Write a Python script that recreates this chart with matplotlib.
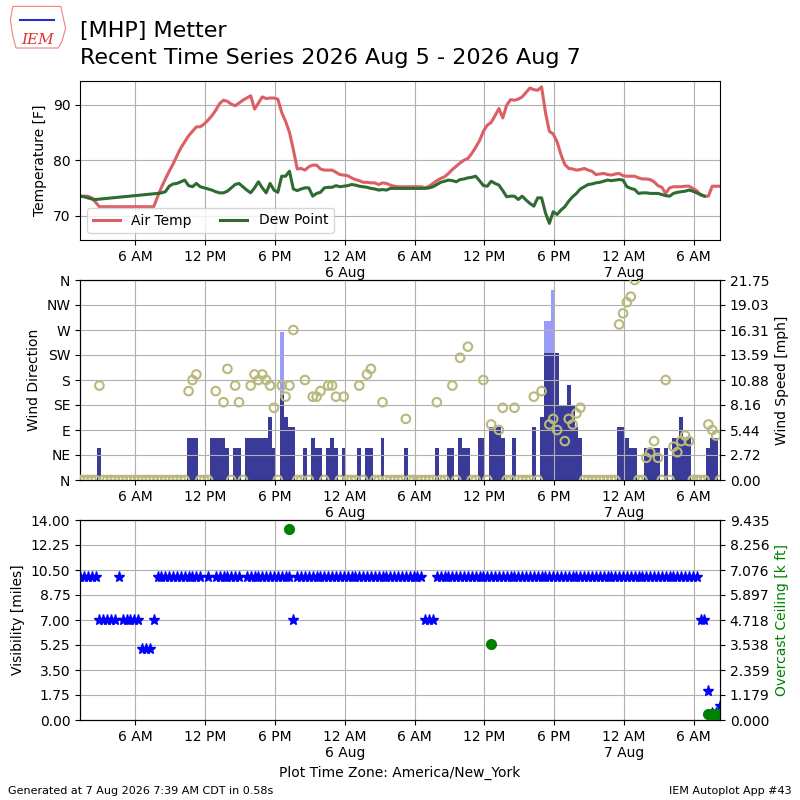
import matplotlib
matplotlib.use('Agg')
import matplotlib.pyplot as plt
import matplotlib.dates as mdates
from matplotlib.ticker import FuncFormatter, FixedLocator
from matplotlib.patches import Polygon
import numpy as np
import pandas as pd

nan = np.nan

# observations every 20 minutes, local time (America/New_York)
obs_start = '2026-08-05 01:15'
n_obs = 166

temp_f = [73.5, 73.5, 73.5, 73.2, nan, 71.6, nan, nan, nan, nan,
          nan, nan, nan, nan, nan, nan, nan, nan, nan, 71.6,
          73.4, 75.1, 76.6, 78.0, 79.3, 80.8, 82.2, 83.3, 84.4, 85.2,
          86.0, 86.0, 86.5, 87.2, 88.0, 89.0, 90.2, 90.8, 90.6, 90.1,
          89.8, 90.3, 90.8, 91.2, 91.6, 89.2, 90.3, 91.4, 91.1, 91.2,
          91.2, 91.0, 88.6, 87.0, 85.0, 81.9, 78.4, 78.5, 78.2, 78.8,
          79.1, 79.1, 78.4, 78.2, 78.2, 78.2, 77.8, 77.4, 77.3, 77.2,
          76.8, 76.5, 76.3, 76.0, 76.0, 75.9, 75.9, 75.6, 75.9, 75.8,
          75.5, 75.3, 75.2, 75.2, 75.2, 75.2, 75.2, 75.2, 75.2, 75.0,
          75.3, 75.8, 76.3, 76.7, 77.0, 77.6, 78.3, 78.9, 79.5, 80.0,
          80.3, 81.2, 82.3, 83.5, 85.2, 86.3, 86.8, 88.0, 89.3, 87.6,
          89.9, 90.9, 90.8, 91.0, 91.4, 92.2, 93.0, 92.7, 92.6, 93.2,
          88.6, 85.2, 84.7, 83.3, 81.0, 79.2, 78.5, 78.4, 78.2, 78.3,
          78.5, 78.2, 78.0, 77.4, 77.5, 77.6, 77.4, 77.3, 77.5, 77.6,
          77.2, 77.1, 77.1, 77.1, 76.8, 76.6, 76.6, 76.5, 76.1, 75.4,
          75.1, 74.0, 75.0, 75.2, 75.2, 75.2, 75.3, 75.3, 74.9, 74.5,
          73.7, 73.5, 73.5, 75.3, 75.3, 75.3]

dwpt_f = [73.5, 73.4, 73.2, 73.0, 72.9, nan, nan, nan, nan, nan,
          nan, nan, nan, nan, nan, nan, nan, nan, nan, nan,
          74.0, 74.1, 74.3, 75.3, 75.7, 75.8, 76.1, 76.4, 75.4, 75.2,
          75.8, 75.2, 75.0, 74.8, 74.6, 74.3, 74.1, 74.1, 74.4, 75.0,
          75.6, 75.8, 75.2, 74.6, 74.1, 75.0, 76.1, 75.0, 74.1, 75.8,
          74.6, 74.2, 77.1, 77.1, 78.0, 74.8, 74.5, 74.8, 75.0, 75.0,
          73.5, 74.0, 74.2, 75.0, 75.1, 75.1, 75.4, 75.2, 75.3, 75.4,
          75.6, 75.5, 75.3, 75.2, 75.1, 74.9, 74.8, 74.6, 74.7, 74.6,
          74.9, 74.9, 74.9, 74.9, 74.9, 74.9, 74.9, 74.9, 74.9, 74.9,
          75.0, 75.2, 75.6, 76.0, 76.2, 76.4, 76.3, 76.1, 76.5, 76.6,
          76.8, 76.9, 77.1, 76.3, 75.4, 75.3, 76.2, 75.8, 75.5, 74.5,
          73.4, 73.5, 73.5, 72.9, 73.5, 72.8, 72.2, 71.7, 73.2, 73.2,
          70.5, 68.6, 70.7, 70.2, 71.0, 71.6, 72.6, 73.4, 74.0, 74.8,
          75.2, 75.6, 75.7, 75.9, 76.0, 76.2, 76.4, 76.3, 76.4, 76.5,
          76.4, 75.2, 74.9, 74.7, 74.0, 74.1, 74.1, 74.0, 74.0, 74.0,
          73.8, 73.6, 73.5, 74.0, 74.2, 74.3, 74.4, 74.6, 74.4, 74.1,
          73.8, 73.5, nan, nan, nan, nan]

# wind speed [knots]
sknt = [0, 0, 0, 0, 0, 3, 0, 0, 0, 0,
        0, 0, 0, 0, 0, 0, 0, 0, 0, 0,
        0, 0, 0, 0, 0, 0, 0, 0, 4, 4,
        4, 0, 0, 0, 4, 4, 4, 4, 3, 0,
        3, 3, 0, 4, 4, 4, 4, 4, 4, 6,
        3, 0, 8, 6, 5, 5, 0, 0, 3, 0,
        4, 3, 3, 0, 3, 4, 3, 0, 3, 0,
        0, 0, 3, 0, 3, 3, 0, 0, 4, 0,
        0, 0, 0, 0, 3, 0, 0, 0, 0, 0,
        0, 0, 3, 0, 0, 3, 3, 0, 4, 3,
        3, 0, 0, 4, 4, 0, 5, 5, 5, 4,
        0, 0, 4, 0, 0, 0, 0, 5, 0, 6,
        12, 12, 12, 12, 7, 7, 9, 7, 5, 4,
        0, 0, 0, 0, 0, 0, 0, 0, 0, 5,
        5, 4, 3, 3, 0, 0, 3, 3, 3, 3,
        0, 3, 0, 4, 4, 6, 4, 4, 0, 0,
        0, 0, 3, 4, 4, 0]

# wind direction [deg], calm = 0
drct = [0, 0, 0, 0, 0, 170, 0, 0, 0, 0,
        0, 0, 0, 0, 0, 0, 0, 0, 0, 0,
        0, 0, 0, 0, 0, 0, 0, 0, 160, 180,
        190, 0, 0, 0, nan, 160, nan, 140, 200, 0,
        170, 140, 0, nan, 170, 190, 180, 190, 180, 170,
        130, 0, 170, 150, 170, 270, 0, 0, 180, 0,
        150, 150, 160, 0, 170, 170, 150, 0, 150, 0,
        0, 0, 170, 0, 190, 200, 0, 0, 140, 0,
        0, 0, 0, 0, 110, 0, 0, 0, 0, 0,
        0, 0, 140, 0, 0, nan, 170, 0, 220, nan,
        240, 0, 0, nan, 180, 0, 100, nan, 90, 130,
        0, 0, 130, 0, 0, 0, 0, 150, 0, 160,
        nan, 100, 110, 90, nan, 70, 110, 100, 120, 130,
        0, 0, 0, 0, 0, 0, 0, 0, 0, 280,
        300, 320, 330, 360, 0, 0, 40, 50, 70, 40,
        0, 180, 0, 60, 50, 70, 80, 70, 0, 0,
        0, 0, 100, 90, 80, 0]

# visibility [miles]
vsby = [10, 10, 10, 10, 10, 7, 7, 7, 7, 7,
        10, 7, 7, 7, 7, 7, 5, 5, 5, 7,
        10, 10, 10, 10, 10, 10, 10, 10, 10, 10,
        10, 10, nan, 10, nan, 10, 10, 10, 10, 10,
        10, 10, nan, 10, 10, 10, 10, 10, 10, 10,
        10, 10, 10, 10, 10, 7, 10, 10, 10, 10,
        10, 10, 10, 10, 10, 10, 10, 10, 10, 10,
        10, 10, 10, 10, 10, 10, 10, 10, 10, 10,
        10, 10, 10, 10, 10, 10, 10, 10, 10, 7,
        7, 7, 10, 10, 10, 10, 10, 10, 10, 10,
        10, 10, 10, 10, 10, 10, 10, 10, 10, 10,
        10, 10, 10, 10, 10, 10, 10, 10, 10, 10,
        10, 10, 10, 10, 10, 10, 10, 10, 10, 10,
        10, 10, 10, 10, 10, 10, 10, 10, 10, 10,
        10, 10, 10, 10, 10, 10, 10, 10, 10, 10,
        10, 10, 10, 10, 10, 10, 10, 10, 10, 10,
        7, 7, 2, 0.5, 0.5, 1.0]

gust_valid = ['2026-08-05 18:35', '2026-08-06 17:15', '2026-08-06 17:35', '2026-08-06 17:55']
gust_kt = [14, 15, 15, 18]

ceil_valid = ['2026-08-05 19:15', '2026-08-06 12:35', '2026-08-07 07:15',
              '2026-08-07 07:35', '2026-08-07 07:55', '2026-08-07 08:15']
ceil_kft = [9.0, 3.6, 0.3, 0.3, 0.3, 0.3]

KT2MPH = 1.15078

valid = pd.date_range(obs_start, periods=n_obs, freq='20min')
df = pd.DataFrame({'tmpf': temp_f, 'dwpf': dwpt_f, 'sknt': sknt,
                   'drct': drct, 'vsby': vsby}, index=valid)
gusts = pd.Series(gust_kt, index=pd.to_datetime(gust_valid)) * KT2MPH
ceil = pd.Series(ceil_kft, index=pd.to_datetime(ceil_valid))


def time_fmt(x, pos=None):
    dt = mdates.num2date(x)
    if dt.hour == 0:
        return '12 AM\n%d Aug' % dt.day
    h = dt.hour % 12 or 12
    return '%d %s' % (h, 'AM' if dt.hour < 12 else 'PM')


def setup_time(ax):
    ax.xaxis.set_major_locator(mdates.HourLocator(byhour=[0, 6, 12, 18]))
    ax.xaxis.set_major_formatter(FuncFormatter(time_fmt))
    ax.set_xlim(valid[0], valid[-1])
    ax.tick_params(labelsize=10)


fig = plt.figure(figsize=(8, 8), dpi=100)

# title and logo
fig.text(0.1, 0.954, '[MHP] Metter', fontsize=16)
fig.text(0.1, 0.920, 'Recent Time Series 2026 Aug 5 - 2026 Aug 7', fontsize=16)
iowa = Polygon([[0.016, 0.992], [0.076, 0.992], [0.079, 0.978], [0.082, 0.965],
                [0.078, 0.950], [0.073, 0.940], [0.020, 0.940], [0.016, 0.955],
                [0.013, 0.975]], closed=True, transform=fig.transFigure,
               fill=False, edgecolor='#f08080', lw=0.8)
fig.patches.append(iowa)
fig.lines.append(plt.Line2D([0.025, 0.068], [0.975, 0.975], transform=fig.transFigure,
                            color='#2233cc', lw=1.5))
fig.text(0.047, 0.950, 'IEM', fontsize=11, color='#e03030', family='serif',
         style='italic', ha='center', va='center')

# --- temperature panel
ax1 = fig.add_axes([0.1, 0.70, 0.8, 0.199])
t = df['tmpf'].dropna()
d = df['dwpf'].dropna()
ax1.plot(t.index, t.values, color='#dc5f66', lw=2.2, label='Air Temp')
ax1.plot(d.index, d.values, color='#2f6b30', lw=2.2, label='Dew Point')
ax1.set_ylim(65.6, 94.3)
ax1.set_yticks([70, 80, 90])
ax1.set_ylabel('Temperature [F]', fontsize=10)
ax1.grid(True)
ax1.legend(loc='lower left', ncol=2, fontsize=10)
setup_time(ax1)

# --- wind panel
ax2 = fig.add_axes([0.1, 0.40, 0.8, 0.25])
ax2s = ax2.twinx()
barw = 20.0 / 1440.0
ax2s.bar(gusts.index, gusts.values, width=barw, color='#9b9bf8')
ax2s.bar(df.index, df['sknt'] * KT2MPH, width=barw, color='#3a3a98')
ax2s.set_ylim(0, 21.75)
ax2s.yaxis.set_major_locator(FixedLocator(np.linspace(0, 21.75, 9)))
ax2s.yaxis.set_major_formatter(FuncFormatter(lambda v, p: '%.2f' % v))
ax2s.set_ylabel('Wind Speed [mph]', fontsize=10)
ax2s.tick_params(labelsize=10)

ax2.set_zorder(ax2s.get_zorder() + 1)
ax2.patch.set_visible(False)
ax2.scatter(df.index, df['drct'], s=38, facecolors='none',
            edgecolors='#b9b97c', linewidths=1.5, zorder=3)
ax2.set_ylim(0, 360)
ax2.set_yticks(range(0, 361, 45))
ax2.set_yticklabels(['N', 'NE', 'E', 'SE', 'S', 'SW', 'W', 'NW', 'N'])
ax2.set_ylabel('Wind Direction', fontsize=10)
ax2.grid(True)
setup_time(ax2)
ax2s.set_xlim(valid[0], valid[-1])

# --- visibility / ceiling panel
ax3 = fig.add_axes([0.1, 0.10, 0.8, 0.25])
ax3.plot(df.index, df['vsby'], '*', color='b', ms=8, ls='none')
ax3.set_ylim(0, 14)
ax3.yaxis.set_major_locator(FixedLocator(np.linspace(0, 14, 9)))
ax3.yaxis.set_major_formatter(FuncFormatter(lambda v, p: '%.2f' % v))
ax3.set_ylabel('Visibility [miles]', fontsize=10)
ax3.grid(True)
setup_time(ax3)
ax3.set_xlabel('Plot Time Zone: America/New_York', fontsize=10)

ax3c = ax3.twinx()
ax3c.plot(ceil.index, ceil.values, 'o', color='green', ms=7, ls='none')
ax3c.set_ylim(0, 9.435)
ax3c.yaxis.set_major_locator(FixedLocator(np.linspace(0, 9.435, 9)))
ax3c.yaxis.set_major_formatter(FuncFormatter(lambda v, p: '%.3f' % v))
ax3c.set_ylabel('Overcast Ceiling [k ft]', color='green', fontsize=10)
ax3c.tick_params(labelsize=10)
ax3c.set_xlim(valid[0], valid[-1])

fig.text(0.01, 0.007, 'Generated at 7 Aug 2026 7:39 AM CDT in 0.58s', fontsize=8)
fig.text(0.99, 0.007, 'IEM Autoplot App #43', fontsize=8, ha='right')

fig.savefig('out.png', dpi=100)
